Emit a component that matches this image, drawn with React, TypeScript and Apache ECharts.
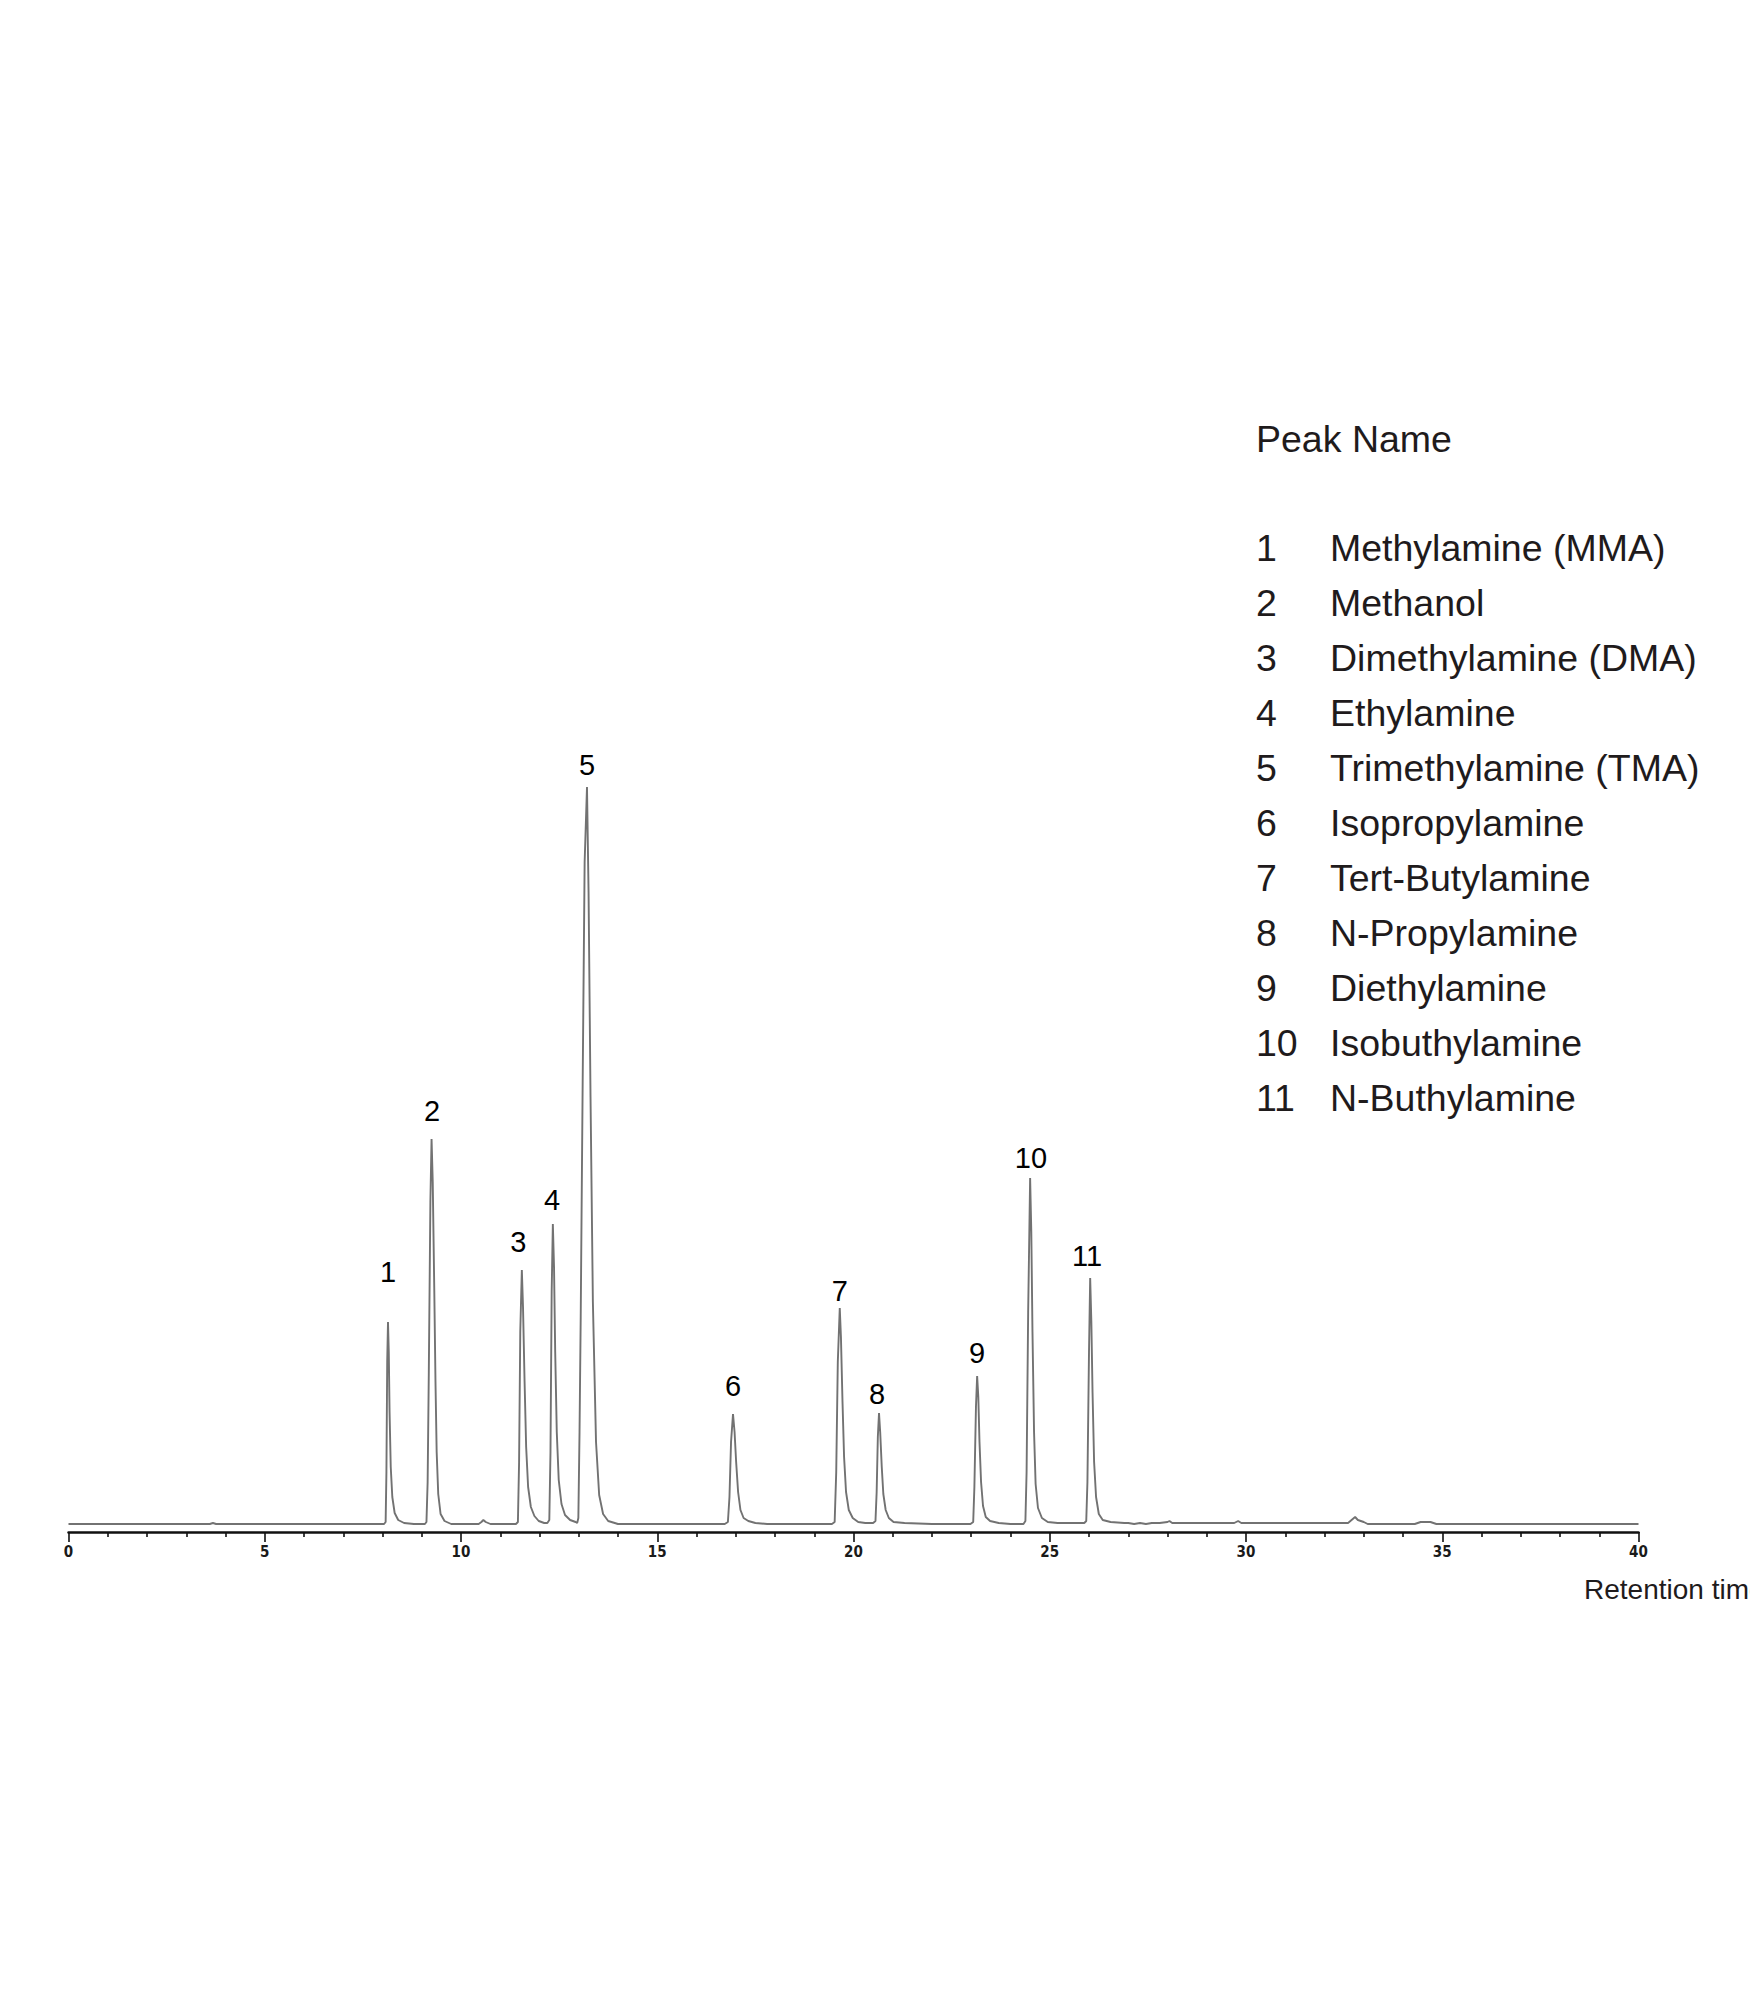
import React, { useEffect, useRef } from "react";
import * as echarts from "echarts";

// ---- Data (retention time in min, detector signal in arbitrary units) ----
const baselineStart: [number, number][] = [[0, 8], [3.6, 8], [3.68, 9], [3.76, 8], [7.95, 8]];
const peak1: [number, number][] = [[8.04, 8], [8.08, 10], [8.10, 60], [8.12, 170], [8.14, 210], [8.16, 180], [8.18, 120], [8.21, 65], [8.25, 35], [8.31, 19], [8.4, 12], [8.55, 9], [8.8, 8]];
const peak2: [number, number][] = [[9.08, 8], [9.12, 10], [9.15, 50], [9.18, 160], [9.22, 330], [9.25, 393], [9.28, 350], [9.32, 240], [9.35, 150], [9.38, 80], [9.42, 38], [9.48, 18], [9.58, 11], [9.75, 8]];
const minorBump1: [number, number][] = [[10.45, 8], [10.52, 10], [10.57, 12], [10.63, 10], [10.75, 8]];
const peak3: [number, number][] = [[11.40, 8], [11.45, 10], [11.48, 70], [11.51, 200], [11.55, 262], [11.58, 225], [11.62, 150], [11.66, 85], [11.71, 45], [11.78, 25], [11.87, 16], [11.98, 11], [12.12, 9]];
const peak4: [number, number][] = [[12.20, 9], [12.25, 12], [12.28, 80], [12.31, 240], [12.34, 308], [12.37, 265], [12.40, 180], [12.44, 100], [12.49, 52], [12.56, 28], [12.65, 17], [12.78, 12], [12.92, 10]];
const peak5: [number, number][] = [[12.96, 9], [12.99, 14], [13.02, 100], [13.05, 215], [13.10, 450], [13.15, 670], [13.21, 745], [13.25, 640], [13.30, 435], [13.36, 230], [13.44, 90], [13.52, 37], [13.62, 18], [13.75, 11], [14.0, 8]];
const peak6: [number, number][] = [[16.72, 8], [16.80, 10], [16.84, 35], [16.88, 90], [16.93, 118], [16.97, 100], [17.01, 70], [17.06, 40], [17.12, 22], [17.20, 14], [17.32, 11], [17.5, 9], [17.8, 8]];
const peak7: [number, number][] = [[19.45, 8], [19.52, 10], [19.56, 60], [19.60, 170], [19.65, 224], [19.68, 195], [19.72, 130], [19.76, 75], [19.81, 40], [19.88, 22], [19.98, 14], [20.12, 10], [20.3, 9]];
const peak8: [number, number][] = [[20.5, 9], [20.56, 11], [20.59, 40], [20.62, 95], [20.65, 119], [20.68, 100], [20.72, 65], [20.76, 38], [20.82, 22], [20.9, 14], [21.02, 10], [21.3, 9], [22.0, 8]];
const peak9: [number, number][] = [[22.98, 8], [23.05, 10], [23.08, 45], [23.12, 125], [23.15, 156], [23.18, 135], [23.21, 90], [23.25, 50], [23.30, 26], [23.37, 15], [23.48, 11], [23.7, 9], [24.0, 8]];
const peak10: [number, number][] = [[24.33, 8], [24.38, 11], [24.41, 60], [24.45, 220], [24.50, 354], [24.53, 300], [24.56, 200], [24.60, 100], [24.64, 48], [24.70, 24], [24.80, 14], [24.95, 10], [25.2, 9]];
const peak11: [number, number][] = [[25.88, 9], [25.93, 11], [25.96, 50], [26.00, 180], [26.03, 254], [26.06, 210], [26.09, 140], [26.13, 70], [26.18, 35], [26.25, 18], [26.35, 12], [26.55, 10], [26.9, 9]];
const baselineEnd: [number, number][] = [[27.0, 9], [27.15, 8], [27.3, 9], [27.45, 8], [27.6, 9], [27.8, 9], [28.0, 10], [28.05, 11], [28.12, 9], [29.7, 9], [29.8, 11], [29.88, 9], [32.6, 9], [32.72, 13], [32.78, 15], [32.85, 12], [33.0, 10], [33.1, 8], [34.3, 8], [34.45, 10], [34.7, 10], [34.85, 8], [40, 8]];

const peakNumbers = ["1", "2", "3", "4", "5", "6", "7", "8", "9", "10", "11"];
const peakNames = [
  "Methylamine (MMA)",
  "Methanol",
  "Dimethylamine (DMA)",
  "Ethylamine",
  "Trimethylamine (TMA)",
  "Isopropylamine",
  "Tert-Butylamine",
  "N-Propylamine",
  "Diethylamine",
  "Isobuthylamine",
  "N-Buthylamine",
];
const peakLabelTimes = [8.14, 9.26, 11.46, 12.32, 13.21, 16.93, 19.65, 20.6, 23.15, 24.52, 25.95];
const peakLabelHeights = [260, 421, 290, 332, 767, 146, 241, 138, 179, 374, 276];

const xMin = 0;
const xMax = 40;
const xInterval = 5;
const legendTitle = "Peak Name";
const axisTitle = "Retention time";

const TEXT_FONT = "'Liberation Sans', Arial, Helvetica, sans-serif";
const TICK_FONT = "'Liberation Sans Narrow', 'DejaVu Sans Condensed', 'DejaVu Sans', sans-serif";
const TEXT_COLOR = "#1f1b1c";

export default function App() {
  const ref = useRef<HTMLDivElement>(null);

  useEffect(() => {
    if (!ref.current) return;
    const chart = echarts.init(ref.current, undefined, { renderer: "svg" });

    const trace = [
      ...baselineStart, ...peak1, ...peak2, ...minorBump1, ...peak3, ...peak4, ...peak5,
      ...peak6, ...peak7, ...peak8, ...peak9, ...peak10, ...peak11, ...baselineEnd,
    ];

    const labelData = peakNumbers.map((n, i) => ({
      name: n,
      value: [peakLabelTimes[i], peakLabelHeights[i]],
    }));

    const legendX = 1256;
    const nameX = 1330;
    const rowY0 = 548;
    const rowStep = 55;
    const legendFont = 37.5;

    const graphics: any[] = [
      {
        type: "text",
        x: legendX,
        y: 439,
        style: { text: legendTitle, fill: TEXT_COLOR, fontSize: legendFont, fontFamily: TEXT_FONT, verticalAlign: "middle", align: "left" },
      },
    ];
    peakNumbers.forEach((n, i) => {
      graphics.push({
        type: "text",
        x: legendX,
        y: rowY0 + i * rowStep,
        style: { text: n, fill: TEXT_COLOR, fontSize: legendFont, fontFamily: TEXT_FONT, verticalAlign: "middle", align: "left" },
      });
      graphics.push({
        type: "text",
        x: nameX,
        y: rowY0 + i * rowStep,
        style: { text: peakNames[i], fill: TEXT_COLOR, fontSize: legendFont, fontFamily: TEXT_FONT, verticalAlign: "middle", align: "left" },
      });
    });
    graphics.push({
      type: "text",
      x: 1584,
      y: 1589,
      style: { text: axisTitle, fill: TEXT_COLOR, fontSize: 28, fontFamily: TEXT_FONT, verticalAlign: "middle", align: "left" },
    });

    chart.setOption({
      animation: false,
      backgroundColor: "#ffffff",
      grid: { left: 68.5, right: 111.5, top: 532, bottom: 468, containLabel: false },
      xAxis: {
        type: "value",
        min: xMin,
        max: xMax,
        interval: xInterval,
        axisLine: { show: true, lineStyle: { color: "#111", width: 2.5 } },
        axisTick: { show: true, length: 10, lineStyle: { color: "#111", width: 1.6 } },
        minorTick: { show: true, splitNumber: 5, length: 5, lineStyle: { color: "#111", width: 1.6 } },
        splitLine: { show: false },
        minorSplitLine: { show: false },
        axisLabel: {
          fontSize: 15,
          fontWeight: "bold",
          fontFamily: TICK_FONT,
          color: "#1a1a1a",
          margin: 12,
        },
      },
      yAxis: { type: "value", min: 0, max: 1000, show: false },
      series: [
        {
          type: "line",
          data: trace,
          symbol: "none",
          silent: true,
          lineStyle: { color: "#727272", width: 1.9 },
          z: 2,
        },
        {
          type: "scatter",
          data: labelData,
          symbolSize: 1,
          silent: true,
          itemStyle: { color: "rgba(0,0,0,0)" },
          label: {
            show: true,
            position: "inside",
            formatter: "{b}",
            fontSize: 29,
            fontFamily: TEXT_FONT,
            color: "#000000",
            opacity: 1,
            textBorderWidth: 0,
          },
          z: 3,
        },
      ],
      graphic: graphics,
    });

    return () => chart.dispose();
  }, []);

  return (
    <div
      ref={ref}
      style={{ position: "absolute", left: 0, top: 0, width: 1750, height: 2000, background: "#fff" }}
    />
  );
}
